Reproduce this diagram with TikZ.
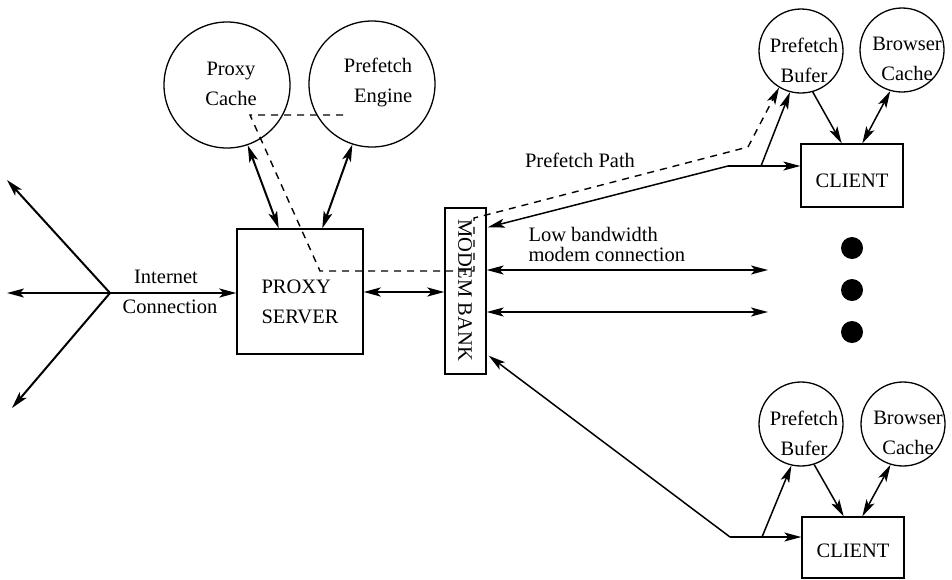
\documentclass[tikz,border=0pt]{standalone}
\usepackage{fontspec}
\setmainfont{Liberation Serif}
\usetikzlibrary{arrows.meta,calc}
\begin{document}
\begin{tikzpicture}[x=1pt,y=-1pt,
  font={\fontsize{20.5}{30}\selectfont},
  >={Stealth[length=17pt,width=9pt,inset=4pt]},
  thickline/.style={line width=2pt},
  thinline/.style={line width=1.5pt},
  bigcirc/.style={draw,circle,line width=1.3pt,minimum size=126pt,inner sep=0pt},
  smallcirc/.style={draw,circle,line width=1.3pt,minimum size=84pt,inner sep=0pt},
  boxnode/.style={draw,rectangle,line width=1.3pt,inner sep=0pt},
  dotnode/.style={fill=black,circle,minimum size=22pt,inner sep=0pt},
  dashline/.style={dashed,line width=1.4pt,dash pattern=on 7pt off 6pt},
]
\useasboundingbox (0,0) rectangle (952,579);

% Proxy side
\node[bigcirc,label={[align=center,xshift=4pt,yshift=1pt]center:Proxy\\Cache}] (pc) at (227,85) {};
\node[bigcirc,label={[align=right,xshift=6pt,yshift=2pt]center:Prefetch\\Engine}] (pe) at (372,84) {};
\node[boxnode,minimum width=126pt,minimum height=125pt] (ps) at (300,291.5) {};
\node[align=left] (pstext) at (300,302) {PROXY\\SERVER};
\node[boxnode,minimum width=41pt,minimum height=166pt] (mb) at (465.5,291) {};
\node[rotate=-90] (mbtext) at (465,290) {MODEM BANK};

% Internet
\coordinate (hub) at (110,293);
\coordinate (i1) at (7,180);
\coordinate (i2) at (7,293);
\coordinate (i3) at (12,408);
\draw[thickline,->] (hub) -- (i1);
\draw[thickline,->] (hub) -- (i2);
\draw[thickline,->] (hub) -- (i3);
\draw[thickline,->] (hub) -- (ps.west |- hub);
\node (inet) at (166,277) {Internet};
\node (conn) at (170,307) {Connection};

\draw[thickline,<->] (pc.-71) -- ($(ps.north west)!0.333!(ps.north east)$);
\draw[thickline,<->] (pe.-108) -- ($(ps.north west)!0.675!(ps.north east)$);
\draw[thickline,<->] (ps.east |- 0,292) -- (mb.west |- 0,292);

% Client 1
\node[smallcirc,label={[align=center,xshift=3pt,yshift=-9pt]center:Prefetch\\Bufer}] (bf1) at (801,51) {};
\node[smallcirc,label={[align=center,xshift=5pt,yshift=-9pt]center:Browser\\Cache}] (bc1) at (902,50) {};
\node[boxnode,minimum width=102pt,minimum height=63pt] (cl1) at (852,175.5) {};
\node (cl1text) at (852,181) {CLIENT};
\draw[thinline,->] (bf1.-74) -- ($(cl1.north west)!0.40!(cl1.north east)$);
\draw[thinline,<->] (bc1.-106) -- ($(cl1.north west)!0.60!(cl1.north east)$);

\coordinate (k1) at (728,166);
\coordinate (k1b) at (761,166);
\draw[thinline,->] (k1) -- ($(mb.north east)+(1,20)$);
\draw[thinline,->] (k1) -- (cl1.west |- k1);
\draw[thinline,->] (k1b) -- (bf1.-105);
\node (ppath) at (580,160) {Prefetch Path};

% Dashed prefetch path
\coordinate (d0) at (343,115);
\coordinate (d1) at (250,115);
\coordinate (d2) at (320,271);
\coordinate (d3) at (474,271);
\coordinate (d4) at (474,218);
\coordinate (d5) at (486,215);
\coordinate (d6) at (748,147);
\draw[dashline] (d0) -- (d1) -- (d2) -- (d3) -- (d4) -- (d5) -- (d6);
\draw[dashline,->] (d6) -- (bf1.-121);

% Modem connections
\coordinate (e1) at (768,270);
\coordinate (e2) at (768,312);
\draw[thinline,<->] (mb.east |- e1) -- (e1);
\draw[thinline,<->] (mb.east |- e2) -- (e2);
\node[align=left,anchor=west,font={\fontsize{20.5}{20}\selectfont}] (lowbw) at (525,244) {Low bandwidth\\modem connection};

% Dots
\node[dotnode] (dot1) at (852,248) {};
\node[dotnode] (dot2) at (852,290) {};
\node[dotnode] (dot3) at (852,332) {};

% Client 2
\node[smallcirc,label={[align=center,xshift=3pt,yshift=-9pt]center:Prefetch\\Bufer}] (bf2) at (801,424) {};
\node[smallcirc,label={[align=center,xshift=5pt,yshift=-9pt]center:Browser\\Cache}] (bc2) at (903,424) {};
\node[boxnode,minimum width=102pt,minimum height=61pt] (cl2) at (853,547.5) {};
\node (cl2text) at (853,551) {CLIENT};
\draw[thinline,->] (bf2.-72) -- ($(cl2.north west)!0.41!(cl2.north east)$);
\draw[thinline,<->] (bc2.-107) -- ($(cl2.north west)!0.59!(cl2.north east)$);

\coordinate (k2) at (730,537);
\coordinate (k2b) at (762,537);
\draw[thinline,->] (k2) -- ($(mb.south east)+(2,-19)$);
\draw[thinline,->] (k2) -- (cl2.west |- k2);
\draw[thinline,->] (k2b) -- (bf2.-103);
\end{tikzpicture}
\end{document}
